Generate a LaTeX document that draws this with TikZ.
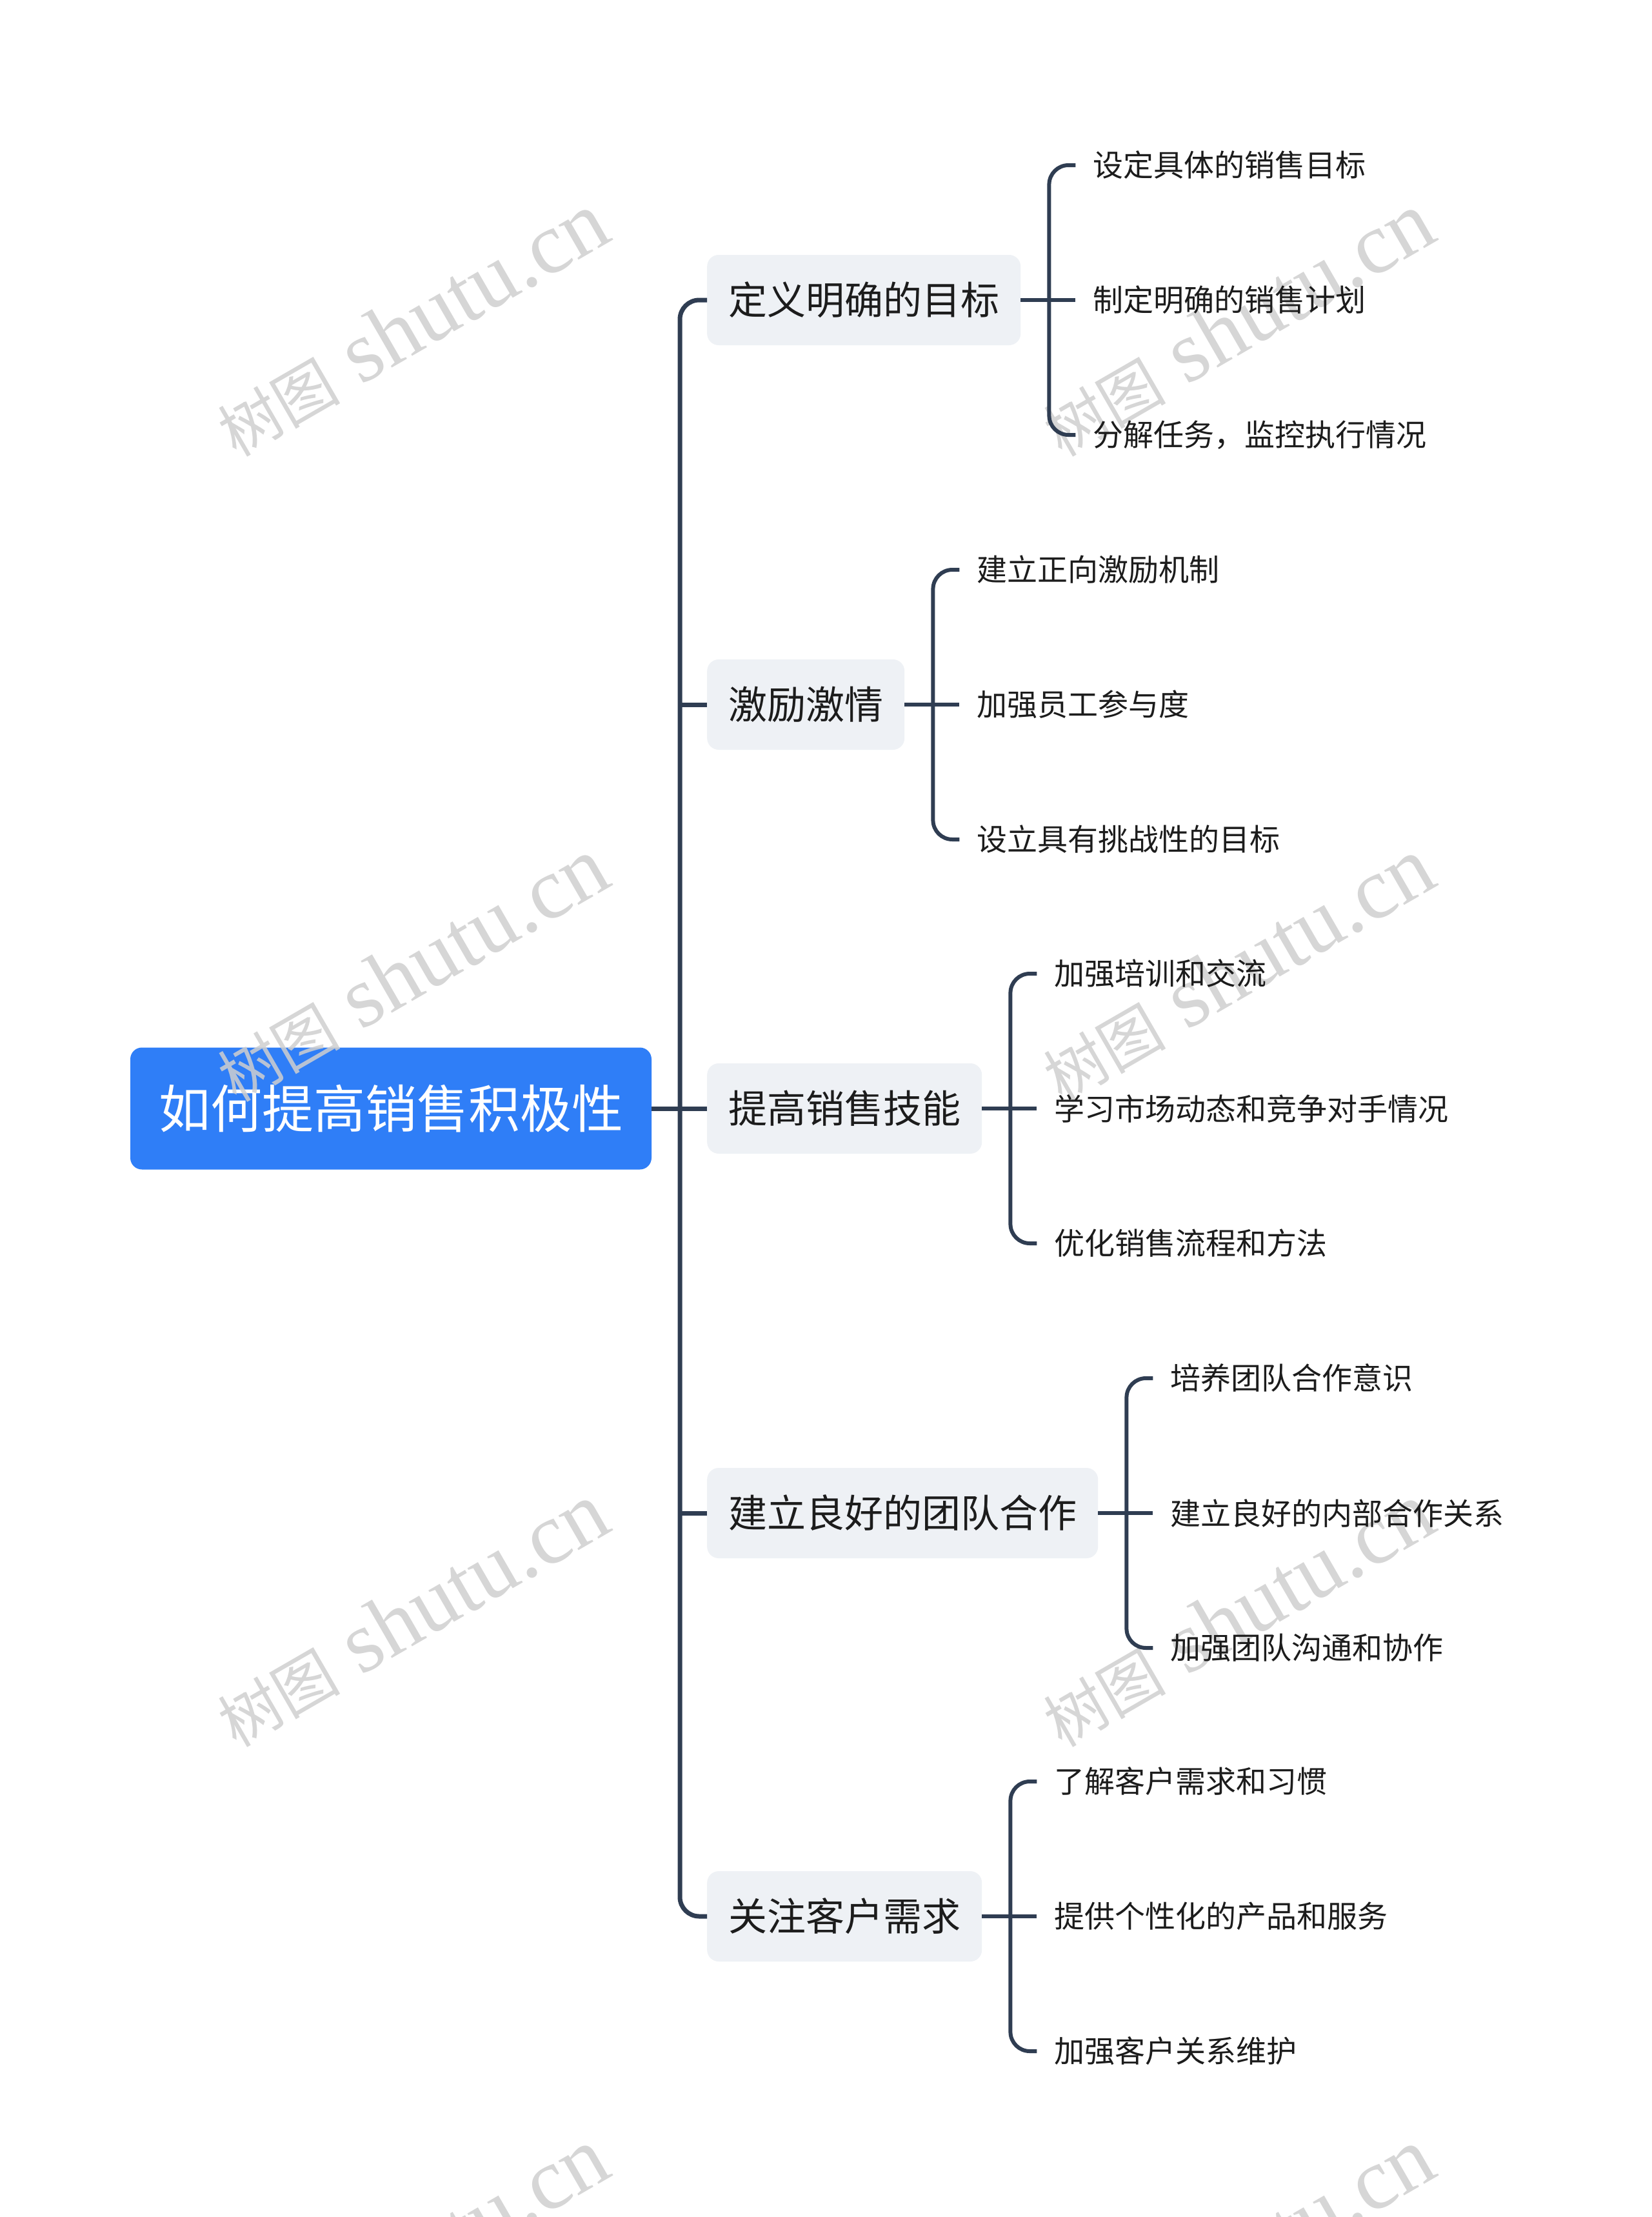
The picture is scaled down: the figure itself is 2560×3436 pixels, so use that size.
\documentclass[tikz,border=0pt]{standalone}
\usepackage{fontspec}
\setmainfont{Noto Sans CJK SC}
\newfontfamily\wmlat{Liberation Serif}
\newfontfamily\wmcjk{Noto Sans CJK SC}
\usetikzlibrary{calc}
\definecolor{lnc}{HTML}{2F3D52}
\definecolor{rootblue}{HTML}{2F7EF7}
\definecolor{brfill}{HTML}{EEF1F5}
\definecolor{txt}{HTML}{1C1C1C}
\definecolor{wmc}{HTML}{CFCFCF}
\tikzset{
  rootbox/.style={fill=rootblue, text=white, rounded corners=18pt, minimum width=808pt, minimum height=189pt, inner sep=0pt, font=\fontsize{80}{80}\selectfont},
  branchbox/.style={fill=brfill, text=txt, rounded corners=18pt, inner xsep=33pt, inner ysep=0pt, minimum height=140pt, anchor=west, font=\fontsize{60}{60}\selectfont},
  leafbox/.style={text=txt, inner sep=0pt, anchor=west, font=\fontsize{47}{47}\selectfont},
  trunkline/.style={draw=lnc, line width=7pt, rounded corners=30pt},
  leafline/.style={draw=lnc, line width=6pt, rounded corners=30pt},
  wmark/.style={text=wmc, text opacity=0.85, rotate=30, inner sep=0pt}
}
\begin{document}
\begin{tikzpicture}[x=1pt,y=-1pt]
\clip (0,0) rectangle (2560,3436);
\fill[white] (0,0) rectangle (2560,3436);

\node[rootbox] (root) at (606,1718) {如何提高销售积极性};

% watermarks (above the root box, below everything else)
\foreach \wx in {638,1918}{
  \foreach \wy in {503,1503,2503,3503}{
    \node[wmark] (wm-\wx-\wy) at (\wx,\wy) {{\wmcjk\fontsize{95}{95}\selectfont 树图}{\wmlat\fontsize{135}{135}\selectfont\ shutu.cn}};
  }
}

\node[branchbox] (b1) at (1096,465) {定义明确的目标};
\node[branchbox] (b2) at (1096,1092) {激励激情};
\node[branchbox] (b3) at (1096,1718) {提高销售技能};
\node[branchbox] (b4) at (1096,2345) {建立良好的团队合作};
\node[branchbox] (b5) at (1096,2970) {关注客户需求};

\coordinate (tx) at (1054,0);
\draw[trunkline] (b1.west) -| (b3.west -| tx) |- (b5.west);
\draw[trunkline] (root.east) -- (b3.west);
\draw[trunkline] (b2.west) -- (b2.west -| tx);
\draw[trunkline] (b4.west) -- (b4.west -| tx);

% leaves
\node[leafbox] (l11) at ($(b1.east)+(112,-209)$) {设定具体的销售目标};
\node[leafbox] (l12) at ($(b1.east)+(112,0)$) {制定明确的销售计划};
\node[leafbox] (l13) at ($(b1.east)+(112,209)$) {分解任务，监控执行情况};

\node[leafbox] (l21) at ($(b2.east)+(112,-209)$) {建立正向激励机制};
\node[leafbox] (l22) at ($(b2.east)+(112,0)$) {加强员工参与度};
\node[leafbox] (l23) at ($(b2.east)+(112,209)$) {设立具有挑战性的目标};

\node[leafbox] (l31) at ($(b3.east)+(112,-209)$) {加强培训和交流};
\node[leafbox] (l32) at ($(b3.east)+(112,0)$) {学习市场动态和竞争对手情况};
\node[leafbox] (l33) at ($(b3.east)+(112,209)$) {优化销售流程和方法};

\node[leafbox] (l41) at ($(b4.east)+(112,-209)$) {培养团队合作意识};
\node[leafbox] (l42) at ($(b4.east)+(112,0)$) {建立良好的内部合作关系};
\node[leafbox] (l43) at ($(b4.east)+(112,209)$) {加强团队沟通和协作};

\node[leafbox] (l51) at ($(b5.east)+(112,-209)$) {了解客户需求和习惯};
\node[leafbox] (l52) at ($(b5.east)+(112,0)$) {提供个性化的产品和服务};
\node[leafbox] (l53) at ($(b5.east)+(112,209)$) {加强客户关系维护};

\foreach \b in {1,2,3,4,5}{
  \draw[leafline] ([xshift=-27pt]l\b1.west) -| ([xshift=44pt]b\b.east) |- ([xshift=-27pt]l\b3.west);
  \draw[leafline] (b\b.east) -- ([xshift=-27pt]l\b2.west);
}
\end{tikzpicture}
\end{document}
